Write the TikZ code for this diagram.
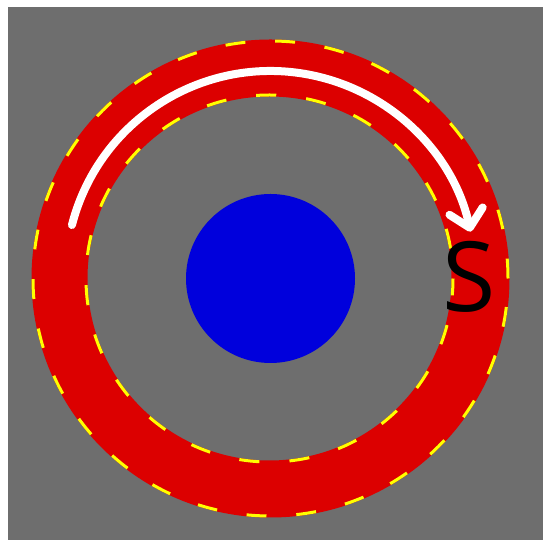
\documentclass[tikz,border=0pt]{standalone}
\usepackage{fontspec}
\setmainfont{Open Sans}
\usetikzlibrary{arrows.meta}
\definecolor{bggray}{RGB}{110,110,110}
\definecolor{ringred}{RGB}{220,0,0}
\definecolor{diskblue}{RGB}{0,0,220}
\definecolor{edgeyellow}{RGB}{255,255,0}
\begin{document}
\begin{tikzpicture}[x=1pt,y=1pt,
  edge/.style={edgeyellow, line width=5pt, dash pattern=on 20pt off 30pt},
  arc/.style={white, line width=8pt, line cap=round,
    -{Straight Barb[length=17pt,width=34pt,round]}},
  lbl/.style={font=\fontsize{97}{97}\selectfont, text=black, inner sep=0pt, anchor=base}
]
\useasboundingbox (0,0) rectangle (543,540);
\fill[white] (0,0) rectangle (543,540);
\fill[bggray] (8,0) rectangle (543,533);
\coordinate (c) at (270.5,261.5);
\coordinate (ci) at (269.5,261.5);
% ring
\fill[ringred, even odd rule] (c) circle[radius=239] (ci) circle[radius=182];
\begin{scope}[even odd rule]
\clip (c) circle[radius=239] (ci) circle[radius=182];
\draw[edge] (c) circle[radius=238.5];
\draw[edge, dash phase=20pt] (ci) circle[radius=182.5];
\end{scope}
% disk
\fill[diskblue] (c) circle[radius=84.5] node (disk) {};
% arrow
\coordinate (ac) at (270.5,264);
\draw[arc] ([shift={(165.6:205)}]ac) arc[start angle=165.6, end angle=12.5, radius=205];
% label
\node[lbl] (s) at (469.5,228) {S};
\end{tikzpicture}
\end{document}
